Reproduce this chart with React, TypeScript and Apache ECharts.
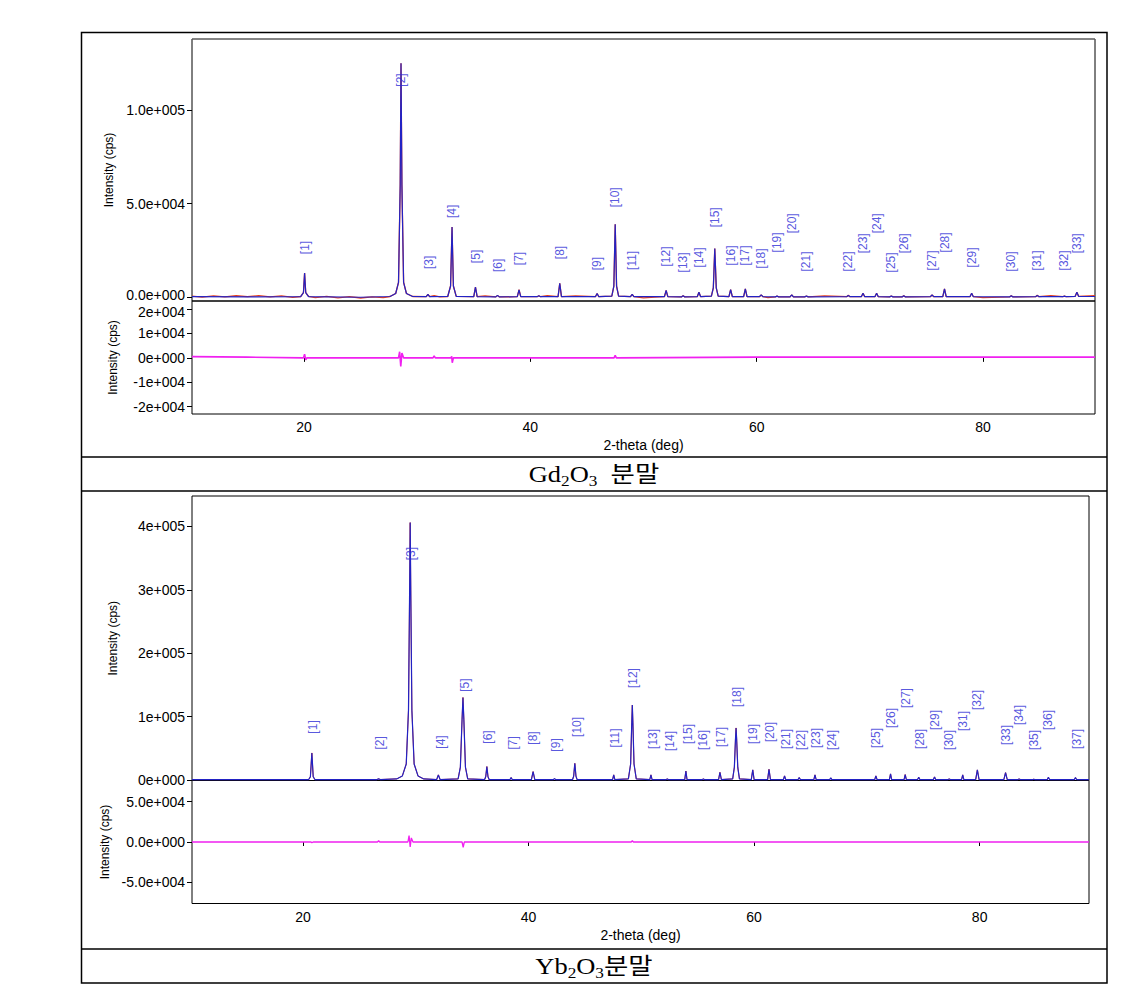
import React, { useEffect, useRef } from "react";
import * as echarts from "echarts";

// ---------- Gd2O3 (top) ----------
const gdProfile: [number, number][] = [
  [10.1, 300], [15, 200], [19.7, 300], [19.95, 2500], [20.05, 12900], [20.15, 2500], [20.4, 300],
  [25, 0], [27.6, 400], [28.1, 2000], [28.35, 8000], [28.5, 60000], [28.57, 125000], [28.65, 60000],
  [28.8, 8000], [29.05, 2000], [29.6, 400], [30.8, 300], [30.95, 1500], [31.1, 300], [32.7, 400],
  [32.95, 6000], [33.08, 37500], [33.2, 6000], [33.45, 500], [35.0, 300], [35.15, 5400], [35.3, 300],
  [36.95, 200], [37.1, 1000], [37.25, 200], [38.85, 300], [39.0, 4000], [39.15, 300], [40.6, 300],
  [40.75, 800], [40.9, 300], [42.45, 300], [42.6, 7500], [42.75, 300], [45.75, 300], [45.9, 2000],
  [46.05, 300], [47.2, 600], [47.38, 6000], [47.5, 39000], [47.62, 6000], [47.8, 600], [48.85, 300],
  [49.0, 1500], [49.15, 300], [51.85, 300], [52.0, 3600], [52.15, 300], [53.35, 200], [53.5, 800],
  [53.65, 200], [54.75, 300], [54.9, 2700], [55.05, 300], [56.0, 600], [56.17, 5000], [56.3, 26000],
  [56.43, 5000], [56.6, 600], [57.55, 300], [57.7, 4100], [57.85, 300], [58.85, 300], [59.0, 4500],
  [59.15, 300], [60.25, 300], [60.4, 1300], [60.55, 300], [61.65, 200], [61.8, 600], [61.95, 200],
  [62.95, 200], [63.1, 1300], [63.25, 200], [64.25, 200], [64.4, 700], [64.55, 200], [67.95, 300],
  [68.1, 1000], [68.25, 300], [69.25, 300], [69.4, 2100], [69.55, 300], [70.45, 300], [70.6, 2100],
  [70.75, 300], [71.75, 200], [71.9, 700], [72.05, 200], [72.85, 200], [73.0, 800], [73.15, 200],
  [75.35, 300], [75.5, 1200], [75.65, 300], [76.45, 300], [76.6, 4500], [76.75, 300], [78.85, 300],
  [79.0, 2100], [79.15, 300], [82.35, 200], [82.5, 800], [82.65, 200], [84.65, 300], [84.8, 1000],
  [84.95, 300], [87.05, 300], [87.2, 600], [87.35, 300], [88.15, 500], [88.3, 2700], [88.45, 500],
  [89.9, 400],
];
// observed pattern: same peaks, baseline slightly noisier
const gdObserved: [number, number][] = [
  [10.1, 600], [11, 100], [12, 700], [13, 200], [14, 800], [15, 300], [16, 900], [17, 200], [18, 700],
  [19, -100], [19.7, 400], [19.95, 2500], [20.05, 12900], [20.15, 2500], [20.4, 500], [21, -200],
  [22, 500], [23, -300], [24, 300], [25, -400], [26, 200], [27, -200], [27.6, 400], [28.1, 2000],
  [28.35, 8000], [28.5, 60000], [28.57, 125000], [28.65, 60000], [28.8, 8000], [29.05, 2000], [29.6, 400],
  [30.8, 300], [30.95, 1500], [31.1, 300], [31.5, 900], [32, 200], [32.7, 400], [32.95, 6000],
  [33.08, 37500], [33.2, 6000], [33.45, 500], [35.0, 300], [35.15, 5400], [35.3, 300], [36, 700],
  [36.95, 200], [37.1, 1000], [37.25, 200], [38.85, 300], [39.0, 4000], [39.15, 300], [40.6, 300],
  [40.75, 800], [40.9, 300], [41.5, 800], [42.45, 300], [42.6, 7500], [42.75, 300], [44, 700],
  [45.75, 300], [45.9, 2000], [46.05, 300], [47.2, 600], [47.38, 6000], [47.5, 39000], [47.62, 6000],
  [47.8, 600], [48.85, 300], [49.0, 1500], [49.15, 300], [50, -300], [51, 100], [51.85, 300], [52.0, 3600],
  [52.15, 300], [53.35, 200], [53.5, 800], [53.65, 200], [54.75, 300], [54.9, 2700], [55.05, 300],
  [56.0, 600], [56.17, 5000], [56.3, 26000], [56.43, 5000], [56.6, 600], [57.55, 300], [57.7, 4100],
  [57.85, 300], [58.85, 300], [59.0, 4500], [59.15, 300], [60.25, 300], [60.4, 1300], [60.55, 300],
  [61, -200], [61.65, 200], [61.8, 600], [61.95, 200], [62.95, 200], [63.1, 1300], [63.25, 200],
  [64.25, 200], [64.4, 700], [64.55, 200], [66, 700], [67.95, 300], [68.1, 1000], [68.25, 300],
  [69.25, 300], [69.4, 2100], [69.55, 300], [70.45, 300], [70.6, 2100], [70.75, 300], [71.75, 200],
  [71.9, 700], [72.05, 200], [72.85, 200], [73.0, 800], [73.15, 200], [75.35, 300], [75.5, 1200],
  [75.65, 300], [76.45, 300], [76.6, 4500], [76.75, 300], [78.85, 300], [79.0, 2100], [79.15, 300],
  [80, -200], [82.35, 200], [82.5, 800], [82.65, 200], [84.65, 300], [84.8, 1000], [84.95, 300],
  [86, 800], [87.05, 300], [87.2, 600], [87.35, 300], [88.15, 500], [88.3, 2700], [88.45, 500],
  [89.9, 900],
];
const gdDiff: [number, number][] = [
  [10.1, 500], [15, 300], [19.95, 0], [20.05, 1500], [20.15, -800], [20.25, 0], [28.35, 0], [28.45, 2500],
  [28.55, -3500], [28.65, 2000], [28.8, 0], [31.4, 0], [31.5, 800], [31.6, 0], [33.0, 0], [33.05, 600],
  [33.1, -2000], [33.2, 0], [47.4, 0], [47.5, 1000], [47.6, 0], [60, 300], [89.9, 300],
];
const gdLabelPos = [20.1, 28.6, 31.0, 33.1, 35.2, 37.1, 39.0, 42.6, 45.9, 47.5, 49.0, 52.0, 53.5, 54.9,
  56.3, 57.7, 59.0, 60.4, 61.8, 63.1, 64.4, 68.1, 69.4, 70.6, 71.9, 73.0, 75.5, 76.6, 79.0, 82.5, 84.8, 87.2, 88.3];
const gdLabelY = [26600, 116100, 18600, 45900, 21800, 17000, 20700, 23900, 18000, 53400, 19700, 21800, 18600,
  21300, 42700, 22300, 22300, 20700, 29300, 39500, 19100, 19100, 28800, 39500, 18600, 28800, 19700, 29300,
  21300, 19100, 19700, 19700, 28800];
const gdUpperTicks = [0, 50000, 100000];
const gdUpperTickLabels = ["0.0e+000", "5.0e+004", "1.0e+005"];
const gdLowerTicks = [-20000, -10000, 0, 10000, 20000];
const gdLowerTickLabels = ["-2e+004", "-1e+004", "0e+000", "1e+004", "2e+004"];

// ---------- Yb2O3 (bottom) ----------
const ybProfile: [number, number][] = [
  [10.15, 500], [20.5, 500], [20.65, 5000], [20.78, 42500], [20.9, 5000], [21.05, 500], [26.55, 500],
  [26.7, 1500], [26.85, 500], [28.3, 1500], [28.8, 6000], [29.15, 25000], [29.35, 110000], [29.45, 300000],
  [29.5, 406000], [29.55, 300000], [29.65, 110000], [29.85, 25000], [30.2, 6000], [30.7, 1500], [31.85, 500],
  [32.0, 7900], [32.15, 500], [33.75, 1500], [33.95, 20000], [34.1, 95000], [34.18, 130000], [34.26, 95000],
  [34.4, 20000], [34.6, 1500], [36.1, 500], [36.2, 5000], [36.3, 21000], [36.4, 5000], [36.5, 500],
  [38.35, 500], [38.45, 3600], [38.55, 500], [40.25, 500], [40.4, 13000], [40.55, 500], [42.2, 500],
  [42.3, 2000], [42.4, 500], [43.9, 500], [44.0, 6000], [44.1, 26000], [44.2, 6000], [44.3, 500],
  [47.45, 500], [47.55, 7900], [47.65, 500], [48.85, 1500], [49.05, 25000], [49.15, 90000], [49.2, 118000],
  [49.25, 90000], [49.35, 25000], [49.55, 1500], [50.75, 500], [50.85, 7900], [50.95, 500], [52.2, 500],
  [52.3, 1500], [52.4, 500], [53.85, 500], [53.95, 14000], [54.05, 500], [55.4, 500], [55.5, 1500],
  [55.6, 500], [56.85, 500], [56.97, 12000], [57.1, 500], [58.1, 1500], [58.25, 20000], [58.35, 65000],
  [58.4, 82000], [58.45, 65000], [58.55, 20000], [58.7, 1500], [59.75, 500], [59.88, 15700], [60.0, 500],
  [61.2, 500], [61.32, 16800], [61.45, 500], [62.6, 500], [62.7, 6300], [62.8, 500], [63.9, 500],
  [64.0, 3600], [64.1, 500], [65.3, 500], [65.4, 7900], [65.5, 500], [66.7, 500], [66.8, 3000], [66.9, 500],
  [70.7, 500], [70.8, 6300], [70.9, 500], [72.0, 500], [72.1, 9400], [72.2, 500], [73.3, 500], [73.4, 8400],
  [73.5, 500], [74.5, 500], [74.6, 4200], [74.7, 500], [75.9, 500], [76.0, 4700], [76.1, 500], [77.2, 500],
  [77.3, 1500], [77.4, 500], [78.4, 500], [78.5, 7900], [78.6, 500], [79.65, 500], [79.8, 15700],
  [79.95, 500], [82.15, 500], [82.3, 11500], [82.45, 500], [83.4, 500], [83.5, 1500], [83.6, 500],
  [84.7, 500], [84.8, 1000], [84.9, 500], [86.0, 500], [86.1, 4200], [86.2, 500], [88.4, 500], [88.5, 3600],
  [88.6, 500], [89.7, 500],
];
const ybDiff: [number, number][] = [
  [10.15, 0], [20.7, 0], [20.78, -800], [20.9, 0], [26.6, 0], [26.7, 1500], [26.8, 0], [29.3, 0],
  [29.4, 8000], [29.5, -6000], [29.6, 5000], [29.75, 0], [34.1, 0], [34.2, -6500], [34.3, 0],
  [49.1, 0], [49.2, 1500], [49.3, 0], [89.7, 0],
];
const ybLabelPos = [20.9, 26.8, 29.6, 32.2, 34.4, 36.4, 38.6, 40.4, 42.4, 44.3, 47.7, 49.3, 51.0, 52.5, 54.1,
  55.5, 57.1, 58.5, 59.9, 61.4, 62.8, 64.2, 65.5, 66.9, 70.8, 72.1, 73.5, 74.7, 76.0, 77.3, 78.5, 79.8, 82.3,
  83.5, 84.8, 86.1, 88.6];
const ybLabelY = [83500, 58300, 357000, 59800, 149600, 67700, 58300, 66100, 55100, 83500, 66100, 160600, 64600,
  61400, 72400, 63000, 67700, 130700, 72400, 75600, 64600, 63000, 66100, 63000, 66100, 97600, 129100, 64600,
  94500, 63000, 92900, 126000, 70900, 102400, 63000, 94500, 64600];
const ybUpperTicks = [0, 100000, 200000, 300000, 400000];
const ybUpperTickLabels = ["0e+000", "1e+005", "2e+005", "3e+005", "4e+005"];
const ybLowerTicks = [-50000, 0, 50000];
const ybLowerTickLabels = ["-5.0e+004", "0.0e+000", "5.0e+004"];

const xTicks = [20, 40, 60, 80];
const xTitle = "2-theta (deg)";
const yTitle = "Intensity (cps)";

const SANS = "'Liberation Sans', Arial, sans-serif";
const BLUE = "#2222c4";
const RED = "#e8401c";
const MAGENTA = "#f020f0";
const LABEL_BLUE = "#2b2bd6";

// label nudges (px) for the two crowded labels where the Gd2O3 panels meet
function yAxisDef(grid: number, min: number, max: number, ticks: number[], labels: string[], nudge?: { value: number; up: boolean }) {
  const tokenStyle = { fontSize: 14, color: "#000", fontFamily: SANS };
  return {
    type: "value",
    gridIndex: grid,
    min,
    max,
    axisLine: { show: false },
    splitLine: { show: false },
    axisTick: { show: true, length: 5, customValues: ticks, lineStyle: { color: "#000" } },
    axisLabel: {
      customValues: ticks,
      formatter: (v: number) => {
        const t = labels[ticks.indexOf(v)] ?? "";
        if (nudge && v === nudge.value) return `{${nudge.up ? "u" : "d"}|${t}}`;
        return t;
      },
      rich: {
        u: { ...tokenStyle, padding: [0, 0, 5, 0] },
        d: { ...tokenStyle, padding: [5, 0, 0, 0] },
      },
      ...tokenStyle,
      margin: 7,
    },
    name: yTitle,
    nameLocation: "middle",
    nameGap: 73,
    nameTextStyle: { fontSize: 12, color: "#000", fontFamily: SANS },
  };
}

function xAxisDef(grid: number, min: number, max: number, shown: boolean) {
  return {
    type: "value",
    gridIndex: grid,
    min,
    max,
    axisLine: { show: false },
    splitLine: { show: false },
    axisTick: { show: shown, length: 4, customValues: xTicks, lineStyle: { color: "#000" } },
    axisLabel: { show: shown, customValues: xTicks, fontSize: 14, color: "#000", fontFamily: SANS, margin: 6 },
    name: shown ? xTitle : "",
    nameLocation: "middle",
    nameGap: 24,
    nameTextStyle: { fontSize: 14, color: "#000", fontFamily: SANS },
  };
}

function labelSeries(xi: number, yi: number, pos: number[], ys: number[]) {
  return {
    type: "scatter",
    xAxisIndex: xi,
    yAxisIndex: yi,
    symbolSize: 1,
    itemStyle: { color: "transparent" },
    silent: true,
    z: 5,
    data: pos.map((p, i) => [p, ys[i], `[${i + 1}]`]),
    label: {
      show: true,
      position: "inside",
      rotate: 90,
      formatter: (p: any) => p.data[2],
      fontSize: 12,
      color: LABEL_BLUE,
      fontFamily: SANS,
    },
  };
}

function lineSeries(xi: number, yi: number, data: [number, number][], color: string, width: number, z = 2) {
  return {
    type: "line",
    xAxisIndex: xi,
    yAxisIndex: yi,
    data,
    showSymbol: false,
    symbol: "none",
    clip: true,
    z,
    lineStyle: { color, width },
  };
}

export default function App() {
  const ref = useRef<HTMLDivElement>(null);
  useEffect(() => {
    if (!ref.current) return;
    const chart = echarts.init(ref.current, undefined, { renderer: "svg" });
    const gridBase = { show: true, borderColor: "#000", borderWidth: 1, backgroundColor: "transparent", containLabel: false };
    const capRich = {
      m: { fontSize: 23, lineHeight: 28, fontFamily: "'Liberation Serif', 'Noto Sans CJK KR', serif", color: "#000" },
      s: { fontSize: 15, verticalAlign: "bottom", fontFamily: "'Liberation Serif', serif", color: "#000" },
    };
    chart.setOption({
      animation: false,
      backgroundColor: "#fff",
      grid: [
        { ...gridBase, left: 192, top: 39, width: 903, height: 262 },
        { ...gridBase, left: 192, top: 301, width: 903, height: 113 },
        { ...gridBase, left: 192, top: 496, width: 897, height: 284.5 },
        { ...gridBase, left: 192, top: 780.5, width: 897, height: 123 },
      ],
      xAxis: [
        xAxisDef(0, 10.1, 89.9, false),
        xAxisDef(1, 10.1, 89.9, true),
        xAxisDef(2, 10.15, 89.7, false),
        xAxisDef(3, 10.15, 89.7, true),
      ],
      yAxis: [
        yAxisDef(0, -2000, 138000, gdUpperTicks, gdUpperTickLabels, { value: 0, up: true }),
        yAxisDef(1, -23000, 23300, gdLowerTicks, gdLowerTickLabels, { value: 20000, up: false }),
        yAxisDef(2, -1000, 448000, ybUpperTicks, ybUpperTickLabels),
        yAxisDef(3, -76000, 76000, ybLowerTicks, ybLowerTickLabels),
      ],
      series: [
        lineSeries(0, 0, gdObserved, RED, 1.3, 2),
        lineSeries(0, 0, gdProfile, BLUE, 1.2, 3),
        lineSeries(1, 1, gdDiff, MAGENTA, 1.6, 3),
        labelSeries(0, 0, gdLabelPos, gdLabelY),
        lineSeries(2, 2, ybProfile, RED, 1.0, 2),
        lineSeries(2, 2, ybProfile, BLUE, 1.2, 3),
        lineSeries(3, 3, ybDiff, MAGENTA, 1.3, 3),
        labelSeries(2, 2, ybLabelPos, ybLabelY),
      ],
      graphic: [
        { type: "rect", z: 0, shape: { x: 81.5, y: 32.5, width: 1025.5, height: 950.5 }, style: { fill: "none", stroke: "#000", lineWidth: 1.5 } },
        { type: "line", z: 0, shape: { x1: 81.5, y1: 457, x2: 1107, y2: 457 }, style: { stroke: "#000", lineWidth: 1.5 } },
        { type: "line", z: 0, shape: { x1: 81.5, y1: 491, x2: 1107, y2: 491 }, style: { stroke: "#000", lineWidth: 1.5 } },
        { type: "line", z: 0, shape: { x1: 81.5, y1: 949, x2: 1107, y2: 949 }, style: { stroke: "#000", lineWidth: 1.5 } },
        { type: "line", z: 10, shape: { x1: 192, y1: 39, x2: 1095, y2: 39 }, style: { stroke: "#888", lineWidth: 1 } },
        {
          type: "text",
          x: 594,
          y: 474,
          scaleX: 1.15,
          style: { text: "{m|Gd}{s|2}{m|O}{s|3}{m|  분말}", align: "center", verticalAlign: "middle", rich: capRich },
        },
        {
          type: "text",
          x: 594,
          y: 966,
          scaleX: 1.15,
          style: { text: "{m|Yb}{s|2}{m|O}{s|3}{m|분말}", align: "center", verticalAlign: "middle", rich: capRich },
        },
      ],
    });
    return () => chart.dispose();
  }, []);
  return (
    <div
      ref={ref}
      style={{ position: "absolute", left: 0, top: 0, width: 1136, height: 984, background: "#fff" }}
    />
  );
}
